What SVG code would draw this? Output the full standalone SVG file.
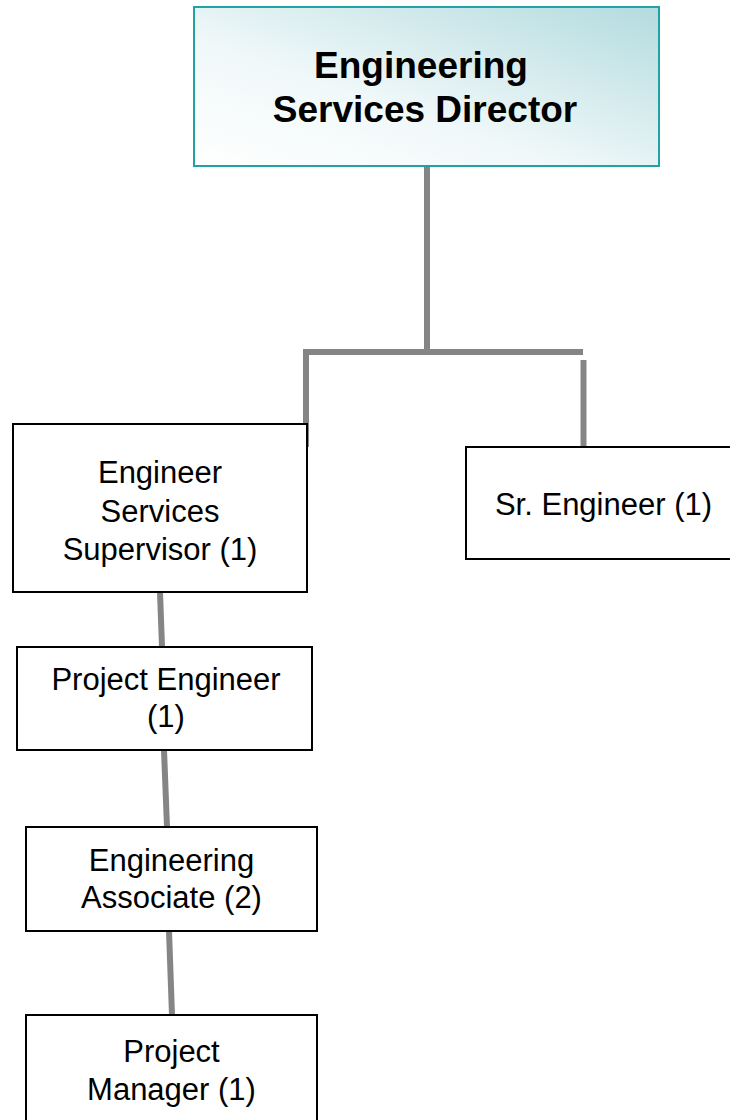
<svg xmlns="http://www.w3.org/2000/svg" width="730" height="1120" viewBox="0 0 730 1120">
<style>
.box{fill:#fff;stroke:#000;stroke-width:2}
.t{font-family:"Liberation Sans",Arial,sans-serif;font-size:31px;fill:#000;text-anchor:middle}
.tb{font-family:"Liberation Sans",Arial,sans-serif;font-size:37px;font-weight:bold;fill:#000;text-anchor:middle}
.c{stroke:#858585;stroke-width:6;fill:none}
</style>
<defs>
<linearGradient id="g" x1="0" y1="1" x2="1" y2="0">
<stop offset="0" stop-color="#ffffff"/>
<stop offset="0.4" stop-color="#f0f8f9"/>
<stop offset="1" stop-color="#b3dbdf"/>
</linearGradient>
</defs>
<g id="connectors">
<line class="c" x1="427" y1="166" x2="427" y2="352"/>
<polyline class="c" points="306,447 306,352 583,352"/>
<line class="c" x1="583.5" y1="360" x2="583.5" y2="456"/>
<line class="c" x1="160" y1="592" x2="162" y2="647"/>
<line class="c" x1="164" y1="750" x2="167" y2="827"/>
<line class="c" x1="169" y1="931" x2="172" y2="1015"/>
</g>
<g id="director">
<rect x="194" y="7" width="465" height="159" fill="url(#g)" stroke="#22a3a3" stroke-width="2"/>
<text class="tb" x="421" y="78">Engineering</text>
<text class="tb" x="425" y="122">Services Director</text>
</g>
<g id="supervisor">
<rect class="box" x="13" y="424" width="294" height="168"/>
<text class="t" x="160" y="483">Engineer</text>
<text class="t" x="160" y="522">Services</text>
<text class="t" x="160" y="560">Supervisor (1)</text>
</g>
<g id="sr-engineer">
<rect class="box" x="466" y="447" width="275" height="112"/>
<text class="t" x="603.5" y="515">Sr. Engineer (1)</text>
</g>
<g id="project-engineer">
<rect class="box" x="17" y="647" width="295" height="103"/>
<text class="t" x="166" y="690">Project Engineer</text>
<text class="t" x="166" y="727">(1)</text>
</g>
<g id="associate">
<rect class="box" x="26" y="827" width="291" height="104"/>
<text class="t" x="171.5" y="871">Engineering</text>
<text class="t" x="171.5" y="908">Associate (2)</text>
</g>
<g id="project-manager">
<rect class="box" x="26" y="1015" width="291" height="120"/>
<text class="t" x="171.5" y="1062">Project</text>
<text class="t" x="171.5" y="1100">Manager (1)</text>
</g>
</svg>
